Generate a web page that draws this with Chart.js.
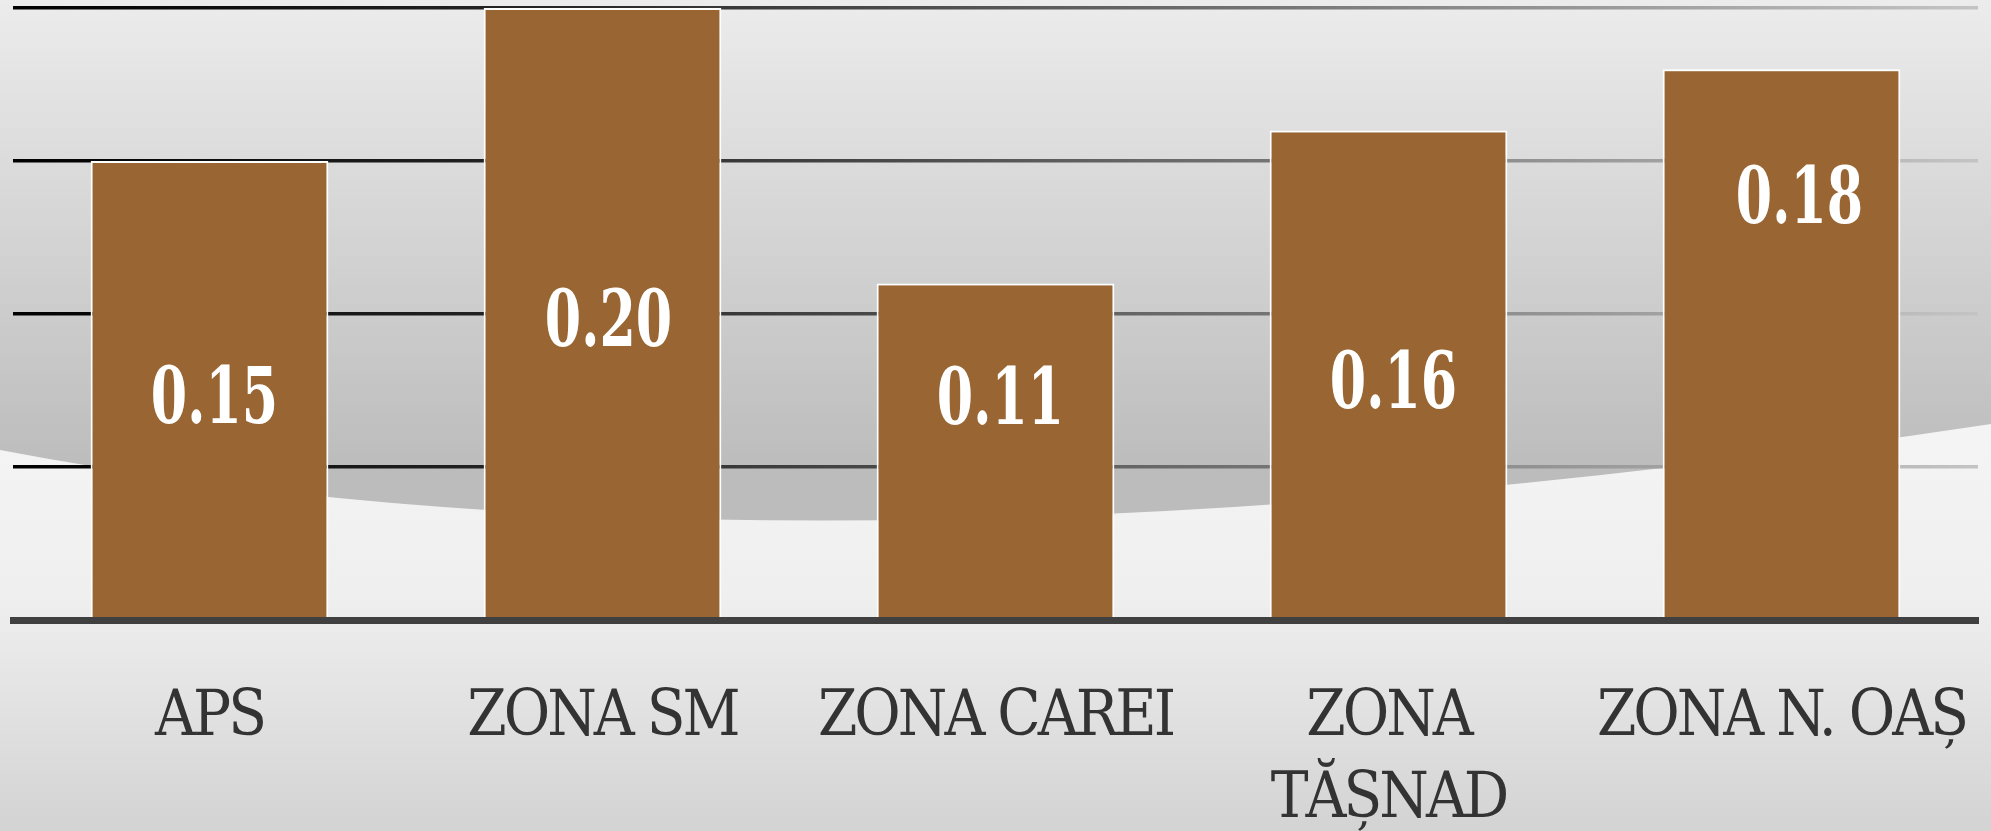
<!DOCTYPE html>
<html>
<head>
<meta charset="utf-8">
<script src="https://cdn.jsdelivr.net/npm/chart.js@4"></script>
<style>
  html, body { margin: 0; padding: 0; }
  body { width: 1991px; height: 831px; overflow: hidden; }
  #wrap { position: relative; width: 1991px; height: 831px; }
</style>
</head>
<body>
<div id="wrap"><canvas id="chart-1"></canvas></div>
<script>
const zones = ['APS', 'ZONA SM', 'ZONA CAREI', ['ZONA', 'TĂȘNAD'], 'ZONA N. OAȘ'];
const values = [0.15, 0.20, 0.11, 0.16, 0.18];
const valueText = ['0.15', '0.20', '0.11', '0.16', '0.18'];

// where each value label sits, pixel offset from the middle of its bar
const labelShift = [[5, 13], [6, 13], [5, -47], [5, 13], [18, -141]];

const backdrop = {
  id: 'backdrop',
  beforeDraw(chart) {
    const c = chart.ctx;
    const w = chart.width, h = chart.height;
    c.save();
    let g = c.createLinearGradient(0, 0, 0, 470);
    g.addColorStop(0, '#ececec');
    g.addColorStop(1, '#bcbcbc');
    c.fillStyle = g;
    c.fillRect(0, 0, w, h);
    // light swoosh at the bottom
    c.beginPath();
    c.moveTo(0, 450);
    c.quadraticCurveTo(805, 603, w, 424);
    c.lineTo(w, h);
    c.lineTo(0, h);
    c.closePath();
    g = c.createLinearGradient(0, 440, 0, h);
    g.addColorStop(0, '#f4f4f4');
    g.addColorStop(0.4, '#efefef');
    g.addColorStop(1, '#d3d3d3');
    c.fillStyle = g;
    c.fill();
    c.restore();
    // tight spacing for the category names
    c.letterSpacing = '-3px';
  },
  beforeDatasetsDraw(chart) {
    chart.ctx.letterSpacing = '0px';
  }
};

const barLabels = {
  id: 'barLabels',
  afterDatasetsDraw(chart) {
    const c = chart.ctx;
    const bars = chart.getDatasetMeta(0).data;
    c.save();
    c.fillStyle = '#ffffff';
    c.font = 'bold 78px "DejaVu Serif"';
    c.textAlign = 'center';
    c.textBaseline = 'middle';
    bars.forEach((bar, i) => {
      const x = bar.x + labelShift[i][0];
      const y = (bar.y + bar.base) / 2 + labelShift[i][1];
      c.save();
      c.translate(x, y);
      c.scale(0.67, 1);
      c.fillText(valueText[i], 0, 0);
      c.restore();
    });
    c.restore();
  }
};

function gridGradient(context) {
  const chart = context.chart;
  const area = chart.chartArea;
  if (!area) return '#000';
  const g = chart.ctx.createLinearGradient(area.left, 0, area.right, 0);
  g.addColorStop(0, '#000000');
  g.addColorStop(0.3, '#2a2a2a');
  g.addColorStop(1, '#c4c4c4');
  return g;
}

const ctx1 = document.getElementById('chart-1').getContext('2d');
const myChart = new Chart(ctx1, {
  type: 'bar',
  data: {
    labels: zones,
    datasets: [{
      data: values,
      backgroundColor: '#996633',
      borderColor: '#ffffff',
      borderWidth: { top: 2, left: 2, right: 2, bottom: 0 },
      barPercentage: 0.605,
      categoryPercentage: 1.0
    }]
  },
  options: {
    responsive: true,
    maintainAspectRatio: false,
    animation: false,
    layout: { padding: { left: 13, right: 13, top: 8, bottom: 0 } },
    plugins: {
      legend: { display: false },
      tooltip: { enabled: false }
    },
    scales: {
      x: {
        grid: { display: false },
        border: { display: true, color: '#404040', width: 7, z: 1 },
        ticks: {
          color: '#333333',
          padding: 49,
          maxRotation: 0,
          autoSkip: false,
          font: { family: '"DejaVu Serif Condensed", "Liberation Serif", serif', size: 63, lineHeight: 1.31 }
        },
        afterFit(scale) {
          scale.height = 211;
          scale.paddingLeft = 0;
          scale.paddingRight = 0;
        }
      },
      y: {
        min: 0,
        max: 0.2,
        display: true,
        ticks: { display: false, stepSize: 0.05 },
        border: { display: false },
        grid: {
          drawTicks: false,
          lineWidth: 3.5,
          color: gridGradient
        },
        afterFit(scale) { scale.width = 0; }
      }
    }
  },
  plugins: [backdrop, barLabels]
});
</script>
</body>
</html>
